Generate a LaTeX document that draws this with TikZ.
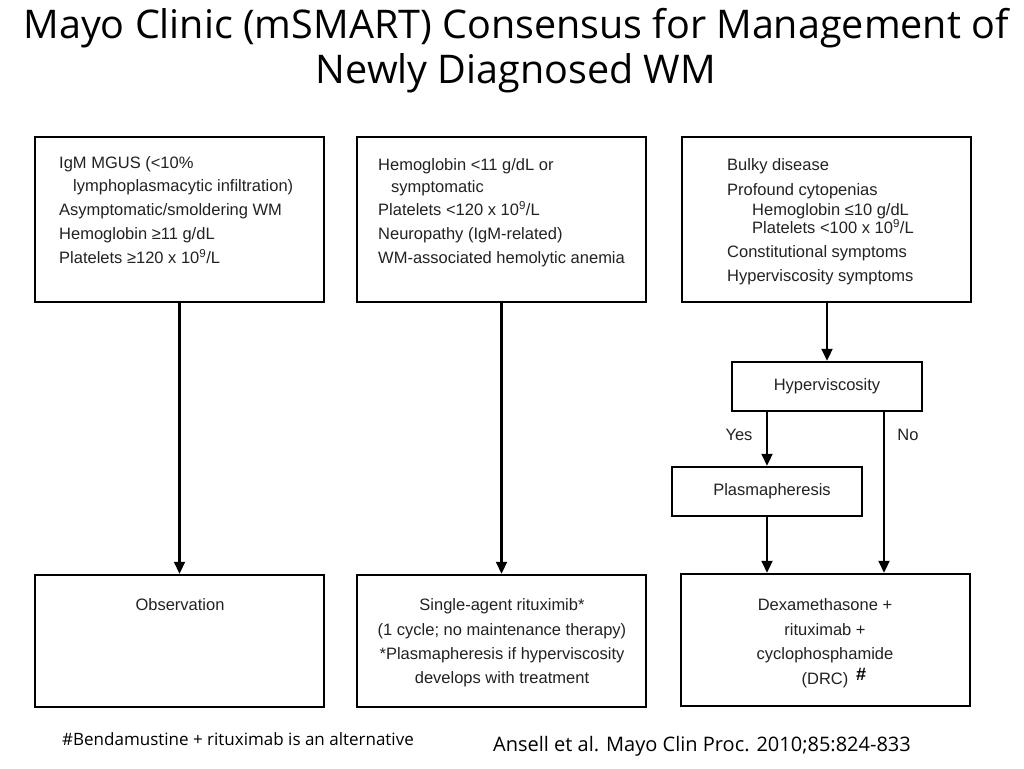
\documentclass[tikz,border=0pt]{standalone}
\usepackage{fontspec}
\setmainfont{Liberation Sans}
\newfontfamily\titlefont{Open Sans}
\usetikzlibrary{arrows.meta}
\definecolor{txt}{HTML}{222222}
\tikzset{
  box/.style={draw=black, line width=2.5pt, rectangle, inner sep=0pt},
  arr/.style={draw=black, line width=2.2pt, -{Triangle[length=12pt,width=11pt]}},
  t/.style={inner sep=0pt, anchor=mid west, text=txt, font=\fontsize{16.5}{18}\selectfont},
  tc/.style={inner sep=0pt, anchor=mid, text=txt, font=\fontsize{16.5}{18}\selectfont},
  ttl/.style={inner sep=0pt, anchor=mid, font=\titlefont\fontsize{39.5}{44}\selectfont},
}
\begin{document}
\begin{tikzpicture}[x=1pt,y=-1pt]
\useasboundingbox[fill=white] (0,0) rectangle (1024,768);
% title
\node[ttl] (title1) at (516,36) {Mayo Clinic (mSMART) Consensus for Management of};
\node[ttl] (title2) at (516,81) {Newly Diagnosed WM};
% top boxes
\node[box, minimum width=289pt, minimum height=165pt] (b1) at (179.5,219.5) {};
\node[box, minimum width=289pt, minimum height=165pt] (b2) at (501.5,219.5) {};
\node[box, minimum width=289pt, minimum height=165pt] (b3) at (826.5,219.5) {};
% box1 text
\node[t] (b1l1) at (59,166) {IgM MGUS (<10\%};
\node[t] (b1l2) at (73,189) {lymphoplasmacytic infiltration)};
\node[t] (b1l3) at (59,213) {Asymptomatic/smoldering WM};
\node[t] (b1l4) at (59,237) {Hemoglobin ≥11 g/dL};
\node[t] (b1l5) at (59,261) {Platelets ≥120 x 10\textsuperscript{9}/L};
% box2 text
\node[t] (b2l1) at (378,168) {Hemoglobin <11 g/dL or};
\node[t] (b2l2) at (391,190) {symptomatic};
\node[t] (b2l3) at (378,213) {Platelets <120 x 10\textsuperscript{9}/L};
\node[t] (b2l4) at (378,237) {Neuropathy (IgM-related)};
\node[t] (b2l5) at (378,261) {WM-associated hemolytic anemia};
% box3 text
\node[t] (b3l1) at (727,168) {Bulky disease};
\node[t] (b3l2) at (727,193) {Profound cytopenias};
\node[t] (b3l3) at (752,213) {Hemoglobin ≤10 g/dL};
\node[t] (b3l4) at (752,231) {Platelets <100 x 10\textsuperscript{9}/L};
\node[t] (b3l5) at (727,255) {Constitutional symptoms};
\node[t] (b3l6) at (727,279) {Hyperviscosity symptoms};
% middle boxes
\node[box, minimum width=190pt, minimum height=49pt] (hv) at (827,386.5) {};
\node[tc] (hvt) at (827,388) {Hyperviscosity};
\node[box, minimum width=190pt, minimum height=49pt] (pl) at (767,491.5) {};
\node[tc] (plt) at (772,493) {Plasmapheresis};
% bottom boxes
\node[box, minimum width=289pt, minimum height=132pt] (o1) at (179.5,641) {};
\node[box, minimum width=289pt, minimum height=132pt] (o2) at (501.5,641) {};
\node[box, minimum width=289pt, minimum height=132pt] (o3) at (825.5,640) {};
\node[tc] (o1t) at (180,608) {Observation};
\node[tc] (o2l1) at (502,608) {Single-agent rituximib*};
\node[tc] (o2l2) at (502,633) {(1 cycle; no maintenance therapy)};
\node[tc] (o2l3) at (502,657) {*Plasmapheresis if hyperviscosity};
\node[tc] (o2l4) at (502,681) {develops with treatment};
\node[tc] (o3l1) at (825,608) {Dexamethasone +};
\node[tc] (o3l2) at (825,633) {rituximab +};
\node[tc] (o3l3) at (825,657) {cyclophosphamide};
\node[tc] (o3l4) at (825,682) {(DRC)};
\node[tc, text=black, font=\bfseries\fontsize{18}{18}\selectfont] (hash) at (861,678) {\#};
% arrows
\draw[arr] (b1.south) -- (o1.north);
\draw[arr] (b2.south) -- (o2.north);
\draw[arr] (b3.south -| hv.north) -- (hv.north);
\draw[arr] (hv.south -| pl.north) -- (pl.north);
\coordinate (nox) at (884,0);
\draw[arr] (hv.south -| nox) -- (o3.north -| nox);
\draw[arr] (pl.south) -- (o3.north -| pl.south);
\node[tc] (yes) at (739,438) {Yes};
\node[tc] (no) at (908,438) {No};
% footnotes
\node[inner sep=0pt, anchor=mid west, font=\titlefont\fontsize{17}{18}\selectfont] (fn) at (62,743) {\#Bendamustine + rituximab is an alternative};
\node[inner sep=0pt, anchor=mid west, font=\titlefont\fontsize{20}{22}\selectfont] (cite) at (493,749) {Ansell et al. Mayo Clin Proc. 2010;85:824-833};
\end{tikzpicture}
\end{document}
